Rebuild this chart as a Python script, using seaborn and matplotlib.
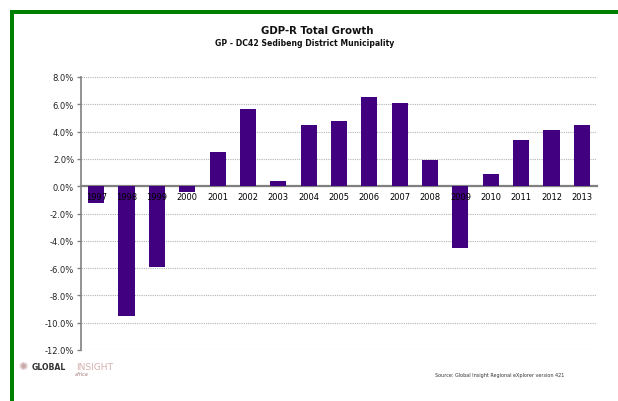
import numpy as np
import pandas as pd
import matplotlib
matplotlib.use("Agg")
import matplotlib.pyplot as plt
import seaborn as sns
from matplotlib.patches import Rectangle

# Annual GDP-R growth, percent
years = ["1997", "1998", "1999", "2000", "2001", "2002", "2003", "2004", "2005",
         "2006", "2007", "2008", "2009", "2010", "2011", "2012", "2013"]
growth = [-1.2, -9.5, -5.9, -0.45, 2.5, 5.65, 0.37, 4.47, 4.76,
          6.53, 6.07, 1.9, -4.54, 0.88, 3.37, 4.1, 4.47]
y_ticks = [-12, -10, -8, -6, -4, -2, 0, 2, 4, 6, 8]
y_tick_labels = [f"{v:.1f}%" for v in y_ticks]

sns.set_style("white")
plt.rcParams["font.family"] = ["DejaVu Sans"]

W, H = 618, 402
fig = plt.figure(figsize=(W / 100, H / 100), dpi=100)
fig.patch.set_facecolor("white")

ax = fig.add_axes([81 / W, 1 - 351 / H, 516 / W, 273 / H])
df = pd.DataFrame({"year": years, "growth": growth})
sns.barplot(data=df, x="year", y="growth", color="#400080", saturation=1,
            width=0.53, linewidth=0, ax=ax, zorder=3)

ax.set_xlim(-0.5, len(years) - 0.5)
ax.set_ylim(-12, 8)
ax.set_xlabel("")
ax.set_ylabel("")

# y axis: percent ticks with dotted grid
ax.set_yticks(y_ticks)
ax.set_yticklabels(y_tick_labels)
ax.yaxis.grid(True, linestyle=(0, (1, 1)), color="#b5b5b5", linewidth=0.8)
ax.xaxis.grid(False)
ax.set_axisbelow(True)
# year labels are printed on top of the bars
ax.xaxis.set_zorder(5)

# category axis sits on the zero line
for side in ("top", "right"):
    ax.spines[side].set_visible(False)
ax.spines["left"].set_color("#808080")
ax.spines["left"].set_linewidth(1.2)
ax.spines["bottom"].set_position(("data", 0))
ax.spines["bottom"].set_color("#808080")
ax.spines["bottom"].set_linewidth(1.6)

ax.set_xticks(np.arange(-0.5, len(years), 1), minor=True)
ax.tick_params(axis="x", which="major", length=0, pad=4, labelsize=6,
               labelcolor="#000000")
ax.tick_params(axis="x", which="minor", length=3, width=1, color="#808080",
               direction="out")
ax.tick_params(axis="y", length=3, width=1, color="#808080", direction="out",
               pad=2, labelsize=6, labelcolor="#222222", left=True)

# green frame
fig.add_artist(Rectangle((10 / W, 0), 4 / W, 1 - 11 / H, color="#008000",
                         lw=0, transform=fig.transFigure))
fig.add_artist(Rectangle((10 / W, 1 - 15 / H), 1 - 10 / W, 4 / H,
                         color="#008000", lw=0, transform=fig.transFigure))

# titles
fig.text(317.5 / W, 1 - 31.5 / H, "GDP-R Total Growth", ha="center",
         va="center", fontsize=7.3, fontweight="bold", color="#111111")
fig.text(304.5 / W, 1 - 44 / H, "GP - DC42 Sedibeng District Municipality",
         ha="center", va="center", fontsize=5.6, fontweight="bold",
         color="#111111")

# source note
fig.text(435 / W, 1 - 375.5 / H,
         "Source: Global Insight Regional eXplorer version 421",
         ha="left", va="center", fontsize=3.5, color="#333333")

# logo
fig.text(23 / W, 1 - 367.5 / H, "\u273a", ha="center", va="center",
         fontsize=8, color="#c9a7a7")
fig.text(32 / W, 1 - 367.5 / H, "GLOBAL", ha="left", va="center",
         fontsize=5.6, fontweight="heavy", color="#333333")
fig.text(76 / W, 1 - 367.5 / H, "INSIGHT", ha="left", va="center",
         fontsize=6.6, color="#d4b0b0")
fig.text(75 / W, 1 - 375 / H, "africa", ha="left", va="center",
         fontsize=3.5, style="italic", color="#a07070")

fig.savefig("out.png", dpi=100)
